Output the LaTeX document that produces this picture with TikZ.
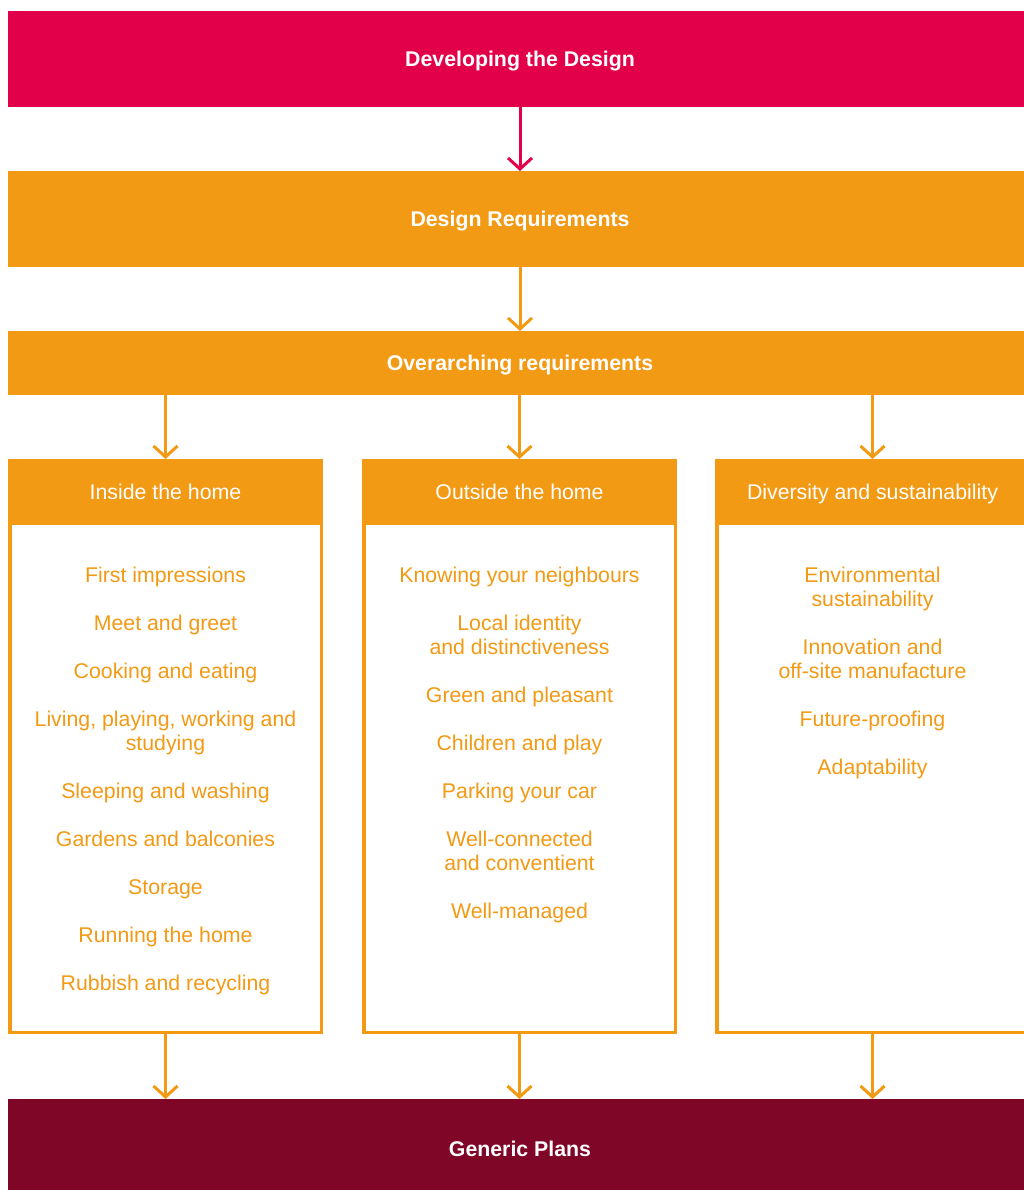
\documentclass[tikz,border=0pt]{standalone}
\usepackage{fontspec}
\setmainfont{Liberation Sans}
\usetikzlibrary{arrows.meta}
\definecolor{dred}{HTML}{E3004B}
\definecolor{dorange}{HTML}{F39A14}
\definecolor{dmaroon}{HTML}{800628}
\begin{document}
\begin{tikzpicture}[x=1pt,y=-1pt,
  band/.style={fill=#1, draw=none, minimum width=1024pt, inner sep=0pt, outer sep=0pt,
     text=white, font=\fontsize{21.3}{24}\selectfont\bfseries, anchor=north west,
     text height=15pt, text depth=0pt},
  colhead/.style={fill=dorange, draw=none, minimum width=315pt, minimum height=66pt,
     inner sep=0pt, outer sep=0pt, anchor=north, text=white,
     font=\fontsize{21.3}{24}\selectfont, text height=15pt, text depth=0pt},
  colbody/.style={draw=dorange, fill=white, line width=3.5pt, minimum width=311.5pt,
     minimum height=571.5pt, inner sep=0pt, anchor=north},
  item/.style={text=dorange, font=\fontsize{21.3}{24}\selectfont, align=center,
     inner sep=0pt, text height=15pt, text depth=0pt},
  arr/.style={draw=#1, line width=3pt, -{Straight Barb[length=11pt,width=24pt]}},
  arr/.default=dorange]
\clip (0,0) rectangle (1024,1190);
\fill[white] (0,0) rectangle (1024,1190);

% bands
\node[band=dred, minimum height=96pt] (dev) at (8,11) {Developing the Design};
\node[band=dorange, minimum height=96pt] (req) at (8,171) {Design Requirements};
\node[band=dorange, minimum height=64pt] (over) at (8,331) {Overarching requirements};
\node[band=dmaroon, minimum height=100pt] (gen) at (8,1099) {Generic Plans};

% columns
\node[colbody] (inb) at (165.5,459) {};
\node[colbody] (outb) at (519.5,459) {};
\node[colbody] (divb) at (872.5,459) {};
\node[colhead] (inh) at (165.5,459) {Inside the home};
\node[colhead] (outh) at (519.5,459) {Outside the home};
\node[colhead] (divh) at (872.5,459) {Diversity and sustainability};

% arrows
\draw[arr=dred] (dev.south -| req.north) -- (req.north);
\draw[arr] (req.south -| over.north) -- (over.north);
\draw[arr] (over.south -| inh.north) -- (inh.north);
\draw[arr] (over.south -| outh.north) -- (outh.north);
\draw[arr] (over.south -| divh.north) -- (divh.north);
\draw[arr] (inb.south) -- (inb.south |- gen.north);
\draw[arr] (outb.south) -- (outb.south |- gen.north);
\draw[arr] (divb.south) -- (divb.south |- gen.north);

% left items
\node[item] (i1) at (165.5,575) {First impressions};
\node[item] (i2) at (165.5,623) {Meet and greet};
\node[item] (i3) at (165.5,671) {Cooking and eating};
\node[item] (i4) at (165.5,743) {Living, playing, working and\\studying};
\node[item] (i5) at (165.5,791) {Sleeping and washing};
\node[item] (i6) at (165.5,839) {Gardens and balconies};
\node[item] (i7) at (165.5,887) {Storage};
\node[item] (i8) at (165.5,935) {Running the home};
\node[item] (i9) at (165.5,983) {Rubbish and recycling};

% middle items
\node[item] (o1) at (519.5,575) {Knowing your neighbours};
\node[item] (o2) at (519.5,647) {Local identity\\and distinctiveness};
\node[item] (o3) at (519.5,695) {Green and pleasant};
\node[item] (o4) at (519.5,743) {Children and play};
\node[item] (o5) at (519.5,791) {Parking your car};
\node[item] (o6) at (519.5,863) {Well-connected\\and conventient};
\node[item] (o7) at (519.5,911) {Well-managed};

% right items
\node[item] (d1) at (872.5,599) {Environmental\\sustainability};
\node[item] (d2) at (872.5,671) {Innovation and\\off-site manufacture};
\node[item] (d3) at (872.5,719) {Future-proofing};
\node[item] (d4) at (872.5,767) {Adaptability};
\end{tikzpicture}
\end{document}
